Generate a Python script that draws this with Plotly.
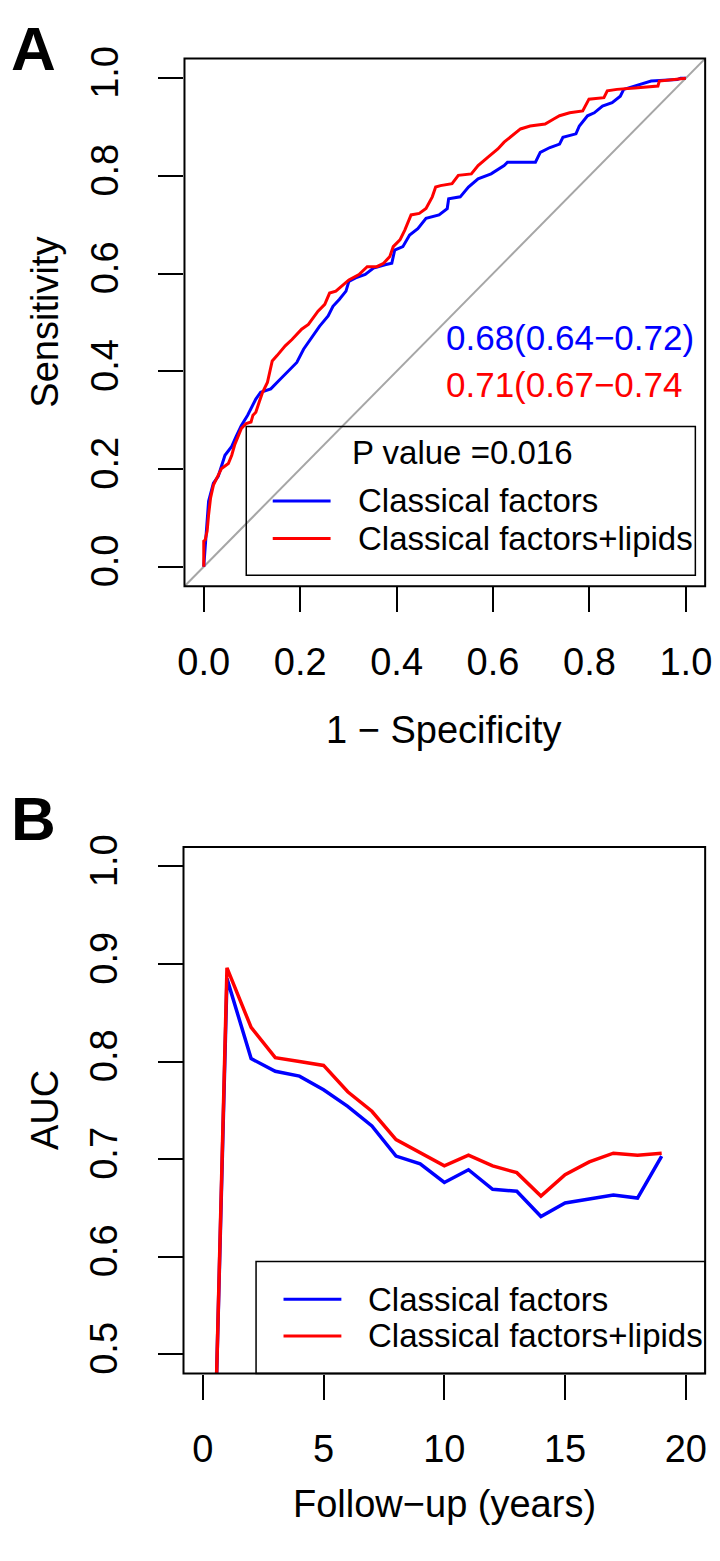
import plotly.graph_objects as go

# ---------------- Data ----------------
# Panel A: ROC curves (1 - specificity, sensitivity)
roc_blue_fpr = [0.0, 0.003, 0.006, 0.010, 0.020, 0.030, 0.044, 0.058, 0.067, 0.078, 0.091, 0.098,
                0.108, 0.118, 0.139, 0.156, 0.176, 0.193, 0.207, 0.224, 0.240, 0.258, 0.268, 0.281,
                0.295, 0.301, 0.315, 0.335, 0.352, 0.376, 0.390, 0.396, 0.413, 0.427, 0.444, 0.461,
                0.488, 0.505, 0.508, 0.532, 0.549, 0.569, 0.596, 0.623, 0.630, 0.688, 0.698, 0.718,
                0.738, 0.745, 0.772, 0.779, 0.796, 0.810, 0.827, 0.847, 0.864, 0.871, 0.888, 0.908,
                0.928, 0.982, 0.989, 1.0]
roc_blue_tpr = [0.0, 0.039, 0.079, 0.134, 0.171, 0.185, 0.228, 0.246, 0.266, 0.289, 0.310, 0.323,
                0.343, 0.357, 0.364, 0.381, 0.401, 0.418, 0.445, 0.469, 0.492, 0.513, 0.533, 0.547,
                0.564, 0.584, 0.591, 0.598, 0.611, 0.618, 0.621, 0.648, 0.655, 0.679, 0.692, 0.713,
                0.720, 0.733, 0.753, 0.757, 0.777, 0.794, 0.804, 0.821, 0.828, 0.828, 0.848, 0.858,
                0.865, 0.879, 0.886, 0.902, 0.923, 0.929, 0.943, 0.950, 0.963, 0.977, 0.982, 0.987,
                0.994, 0.997, 1.0, 1.0]

roc_red_fpr = [0.0, 0.0, 0.003, 0.007, 0.010, 0.014, 0.020, 0.034, 0.037, 0.051, 0.058, 0.064,
               0.071, 0.078, 0.088, 0.098, 0.102, 0.108, 0.115, 0.122, 0.132, 0.142, 0.152, 0.169,
               0.183, 0.203, 0.217, 0.237, 0.251, 0.261, 0.274, 0.288, 0.301, 0.322, 0.339, 0.359,
               0.373, 0.386, 0.393, 0.407, 0.417, 0.430, 0.447, 0.461, 0.474, 0.481, 0.491, 0.515,
               0.528, 0.555, 0.569, 0.589, 0.610, 0.623, 0.640, 0.657, 0.677, 0.708, 0.725, 0.738,
               0.759, 0.786, 0.799, 0.830, 0.837, 0.857, 0.894, 0.942, 0.945, 0.969, 1.0]
roc_red_tpr = [0.0, 0.052, 0.055, 0.073, 0.106, 0.140, 0.167, 0.195, 0.201, 0.211, 0.228, 0.249,
               0.266, 0.283, 0.293, 0.296, 0.310, 0.316, 0.337, 0.357, 0.377, 0.421, 0.432, 0.452,
               0.465, 0.486, 0.496, 0.523, 0.537, 0.560, 0.564, 0.577, 0.587, 0.598, 0.614, 0.614,
               0.621, 0.635, 0.655, 0.669, 0.689, 0.720, 0.723, 0.733, 0.757, 0.777, 0.780, 0.784,
               0.801, 0.804, 0.821, 0.838, 0.855, 0.869, 0.882, 0.896, 0.902, 0.906, 0.916, 0.923,
               0.929, 0.933, 0.957, 0.960, 0.974, 0.977, 0.980, 0.984, 0.994, 0.996, 1.0]

diag_vals = [-0.04, 1.04]

# Panel B: time-dependent AUC
years = [0.5, 1, 2, 3, 4, 5, 6, 7, 8, 9, 10, 11, 12, 13, 14, 15, 16, 17, 18, 19]
auc_blue = [0.41, 0.885, 0.803, 0.790, 0.785, 0.771, 0.754, 0.734, 0.703, 0.695, 0.676,
            0.689, 0.669, 0.667, 0.641, 0.655, 0.659, 0.663, 0.660, 0.703]
auc_red = [0.41, 0.896, 0.835, 0.804, 0.800, 0.796, 0.769, 0.749, 0.720, 0.707, 0.693,
           0.704, 0.693, 0.686, 0.662, 0.684, 0.697, 0.706, 0.704, 0.706]

series_names = ["Classical factors", "Classical factors+lipids"]
auc_text_blue = "0.68(0.64\u22120.72)"
auc_text_red = "0.71(0.67\u22120.74"
p_text = "P value =0.016"

xticks_a = [0.0, 0.2, 0.4, 0.6, 0.8, 1.0]
yticks_a = [0.0, 0.2, 0.4, 0.6, 0.8, 1.0]
xticks_b = [0, 5, 10, 15, 20]
yticks_b = [0.5, 0.6, 0.7, 0.8, 0.9, 1.0]

# ---------------- Layout helpers ----------------
W, H = 720, 1561
FONT = "Liberation Sans, Arial, Helvetica, sans-serif"
BLUE = "#0000FF"
RED = "#FF0000"


def px(x):
    return x / W


def py(y):
    return 1 - y / H


fig = go.Figure()

# Panel A traces
fig.add_trace(go.Scatter(x=diag_vals, y=diag_vals, mode="lines",
                         line=dict(color="#A6A6A6", width=2), showlegend=False,
                         xaxis="x", yaxis="y", hoverinfo="skip"))
fig.add_trace(go.Scatter(x=roc_blue_fpr, y=roc_blue_tpr, mode="lines", name=series_names[0],
                         line=dict(color=BLUE, width=3), showlegend=False, xaxis="x", yaxis="y"))
fig.add_trace(go.Scatter(x=roc_red_fpr, y=roc_red_tpr, mode="lines", name=series_names[1],
                         line=dict(color=RED, width=3), showlegend=False, xaxis="x", yaxis="y"))

# Panel B traces
fig.add_trace(go.Scatter(x=years, y=auc_blue, mode="lines", name=series_names[0],
                         line=dict(color=BLUE, width=3.5), showlegend=False, xaxis="x2", yaxis="y2"))
fig.add_trace(go.Scatter(x=years, y=auc_red, mode="lines", name=series_names[1],
                         line=dict(color=RED, width=3.5), showlegend=False, xaxis="x2", yaxis="y2"))

axis_common = dict(showgrid=False, zeroline=False, showline=False, ticks="outside",
                   ticklen=25, tickwidth=2, tickcolor="black",
                   tickfont=dict(family=FONT, size=38, color="black"))

fig.update_layout(
    width=W, height=H,
    margin=dict(l=0, r=0, t=0, b=0),
    paper_bgcolor="white", plot_bgcolor="white",
    xaxis=dict(domain=[px(181), px(712)], range=[-0.04, 1.04], tickvals=xticks_a,
               ticktext=[f"{v:.1f}" for v in xticks_a], anchor="y", ticklabelstandoff=17,
               **axis_common),
    yaxis=dict(domain=[py(579), py(47)], range=[-0.04, 1.04], tickvals=yticks_a,
               ticktext=[f"{v:.1f}" for v in yticks_a], anchor="x", tickangle=-90,
               ticklabelstandoff=25, **axis_common),
    xaxis2=dict(domain=[px(180), px(712)], range=[-0.8, 20.8], tickvals=xticks_b,
                ticktext=[str(v) for v in xticks_b], anchor="y2", ticklabelstandoff=17,
                **axis_common),
    yaxis2=dict(domain=[py(1373), py(842)], range=[0.48, 1.02], tickvals=yticks_b,
                ticktext=[f"{v:.1f}" for v in yticks_b], anchor="x2", tickangle=-90,
                ticklabelstandoff=25, **axis_common),
)

shapes = []
# plot boxes
for xr, yr in [("x", "y"), ("x2", "y2")]:
    shapes.append(dict(type="rect", xref=f"{xr} domain", yref=f"{yr} domain",
                       x0=0, x1=1, y0=0, y1=1, line=dict(color="black", width=2)))
# legend boxes
shapes.append(dict(type="rect", xref="paper", yref="paper", x0=px(244), x1=px(702),
                   y0=py(568), y1=py(418), line=dict(color="black", width=1.5)))
shapes.append(dict(type="rect", xref="paper", yref="paper", x0=px(254), x1=px(712),
                   y0=py(1373), y1=py(1260), line=dict(color="black", width=1.5)))
# legend sample lines
for (x0, x1, yy, c) in [(271, 330, 493, BLUE), (271, 330, 531, RED),
                        (282, 341, 1298, BLUE), (282, 341, 1335, RED)]:
    shapes.append(dict(type="line", xref="paper", yref="paper", x0=px(x0), x1=px(x1),
                       y0=py(yy), y1=py(yy), line=dict(color=c, width=3)))
fig.update_layout(shapes=shapes)

ann = []


def add_text(text, x, y, size=38, color="black", xanchor="center", angle=0, bold=False,
             yanchor="middle"):
    t = f"<b>{text}</b>" if bold else text
    ann.append(dict(text=t, x=px(x), y=py(y), xref="paper", yref="paper", showarrow=False,
                    xanchor=xanchor, yanchor=yanchor, textangle=angle,
                    font=dict(family=FONT, size=size, color=color)))


add_text("A", 27, 0, size=62, bold=True, yanchor="top")
add_text("B", 27, 776, size=62, bold=True, yanchor="top")
add_text("Sensitivity", 39, 313, angle=-90)
add_text("1 \u2212 Specificity", 446, 724)
add_text("AUC", 39, 1107, angle=-90)
add_text("Follow\u2212up (years)", 446, 1505)
add_text(auc_text_blue, 446, 328, size=35, color=BLUE, xanchor="left")
add_text(auc_text_red, 446, 376, size=35, color=RED, xanchor="left")
add_text(p_text, 465, 444, size=33)
add_text(series_names[0], 356, 493, size=33, xanchor="left")
add_text(series_names[1], 356, 531, size=33, xanchor="left")
add_text(series_names[0], 366, 1298, size=33, xanchor="left")
add_text(series_names[1], 366, 1335, size=33, xanchor="left")
fig.update_layout(annotations=ann)

fig.write_html(
    "out.html",
    config={"displayModeBar": False},
    post_script=("document.body.style.margin='0';"
                 "var d=document.getElementById('{plot_id}');"
                 "d.style.position='fixed';d.style.top='0px';d.style.left='0px';"),
)
